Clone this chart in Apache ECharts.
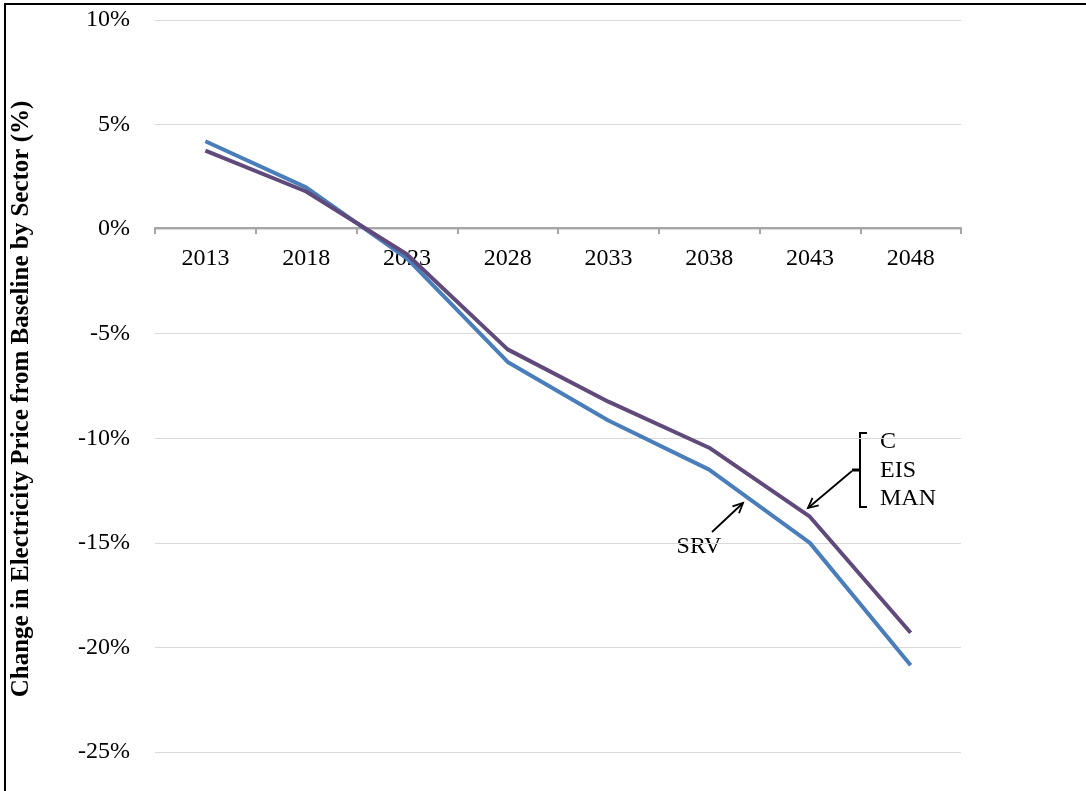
<!DOCTYPE html>
<html>
<head>
<meta charset="utf-8">
<script src="https://cdn.jsdelivr.net/npm/echarts@6/dist/echarts.min.js"></script>
<style>
  html, body { margin: 0; padding: 0; background: #fff; }
  #main { width: 1086px; height: 791px; }
</style>
</head>
<body>
<div id="main"></div>
<script>
// 年份
const years = ['2013', '2018', '2023', '2028', '2033', '2038', '2043', '2048']
// SRV 电价变化 (%)
const srv = [4.2, 2.0, -1.4, -6.35, -9.15, -11.5, -15.0, -20.85]
// C / EIS / MAN 基本重合
const cEisMan = [3.75, 1.8, -1.2, -5.75, -8.25, -10.45, -13.75, -19.3]
const yTitle = 'Change in Electricity Price from Baseline by Sector (%)'

const serif = '"Liberation Serif", "Times New Roman", serif'

// 画箭头 (tail -> head)
function arrow(x1, y1, x2, y2) {
  const a = Math.atan2(y2 - y1, x2 - x1)
  const len = 11
  const spread = 0.45
  return [
    {
      type: 'line',
      shape: { x1, y1, x2, y2 },
      style: { stroke: '#000', lineWidth: 1.8 }
    },
    {
      type: 'polyline',
      shape: {
        points: [
          [x2 - len * Math.cos(a - spread), y2 - len * Math.sin(a - spread)],
          [x2, y2],
          [x2 - len * Math.cos(a + spread), y2 - len * Math.sin(a + spread)]
        ]
      },
      style: { stroke: '#000', lineWidth: 1.8, fill: null }
    }
  ]
}

const txt = (text, x, y, align) => ({
  type: 'text',
  x,
  y,
  style: {
    text,
    font: '24px ' + serif,
    fill: '#000',
    align: align || 'left',
    verticalAlign: 'middle'
  }
})

const chart = echarts.init(document.getElementById('main'))

const option = {
  backgroundColor: '#fff',
  animation: false,
  grid: { left: 155, right: 125, top: 20, bottom: 39 },
  xAxis: {
    type: 'category',
    data: years,
    boundaryGap: true,
    // 轴线放在 0% 处 (标签跟随)
    offset: -524,
    axisLine: { onZero: false, lineStyle: { color: '#a6a6a6', width: 2 } },
    axisTick: { show: true, length: 6, lineStyle: { color: '#a6a6a6', width: 2 } },
    axisLabel: { color: '#000', fontFamily: serif, fontSize: 24, margin: 19 },
    splitLine: { show: false }
  },
  yAxis: {
    type: 'value',
    min: -25,
    max: 10,
    interval: 5,
    axisLine: { show: false },
    axisTick: { show: false },
    axisLabel: {
      color: '#000',
      fontFamily: serif,
      fontSize: 24,
      margin: 25,
      formatter: '{value}%'
    },
    splitLine: { lineStyle: { color: '#d9d9d9', width: 1 } }
  },
  series: [
    {
      name: 'SRV',
      type: 'line',
      data: srv,
      symbol: 'none',
      lineStyle: { color: '#4a7ebb', width: 4 },
      z: 3
    },
    {
      name: 'C/EIS/MAN',
      type: 'line',
      data: cEisMan,
      symbol: 'none',
      lineStyle: { color: '#604a7b', width: 4 },
      z: 4
    }
  ],
  graphic: [
    // 外框
    {
      type: 'rect',
      shape: { x: 5, y: 4, width: 1200, height: 900 },
      style: { fill: null, stroke: '#000', lineWidth: 2 },
      silent: true
    },
    // y 轴标题
    {
      type: 'text',
      x: 22,
      y: 399,
      rotation: Math.PI / 2,
      style: {
        text: yTitle,
        font: 'bold 25px ' + serif,
        fill: '#000',
        align: 'center',
        verticalAlign: 'middle'
      }
    },
    // SRV 标注
    txt('SRV', 699, 547, 'center'),
    ...arrow(712, 532, 743, 503),
    // C / EIS / MAN 括号标注
    {
      type: 'polyline',
      shape: { points: [[867, 433], [860, 433], [860, 507], [867, 507]] },
      style: { stroke: '#000', lineWidth: 2, fill: null }
    },
    {
      type: 'line',
      shape: { x1: 852, y1: 470, x2: 860, y2: 470 },
      style: { stroke: '#000', lineWidth: 3 }
    },
    ...arrow(852, 471, 808, 508),
    txt('C', 880, 442),
    txt('EIS', 880, 471),
    txt('MAN', 880, 499)
  ]
}

chart.setOption(option)
</script>
</body>
</html>
